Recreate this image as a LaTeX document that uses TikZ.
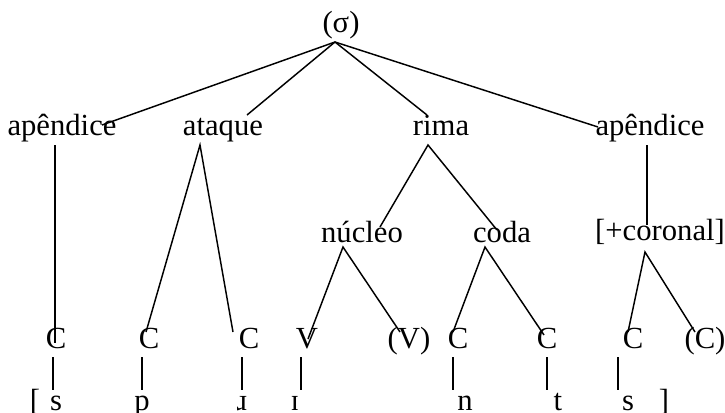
\documentclass[tikz,border=0pt]{standalone}
\usepackage{fontspec}
\setmainfont{Liberation Serif}
\usepackage{tikz}
\usetikzlibrary{calc}
\tikzstyle{lbl}=[anchor=base, inner sep=0pt, font=\fontsize{23}{27}\selectfont]
\tikzstyle{seg}=[lbl]
\tikzstyle{branch}=[line width=1.1pt]

\begin{document}
\begin{tikzpicture}[x=0.75pt, y=-0.75pt]
        \useasboundingbox (0,0) rectangle (725,412);
        \node[lbl] (sigma)   at (341,32)  {(σ)};
        \node[lbl] (apL)     at (62,135)  {apêndice};
        \node[lbl] (ataque)  at (223,135) {ataque};
        \node[lbl] (rima)    at (441,135) {rima};
        \node[lbl] (apR)     at (650,135) {apêndice};
        \node[lbl] (nucleo)  at (362,242) {núcleo};
        \node[lbl] (coda)    at (502,242) {coda};
        \node[lbl] (coronal) at (660,240) {[+coronal]};
        \node[lbl] (C1)      at (56,348)  {C};
        \node[lbl] (C2)      at (149,348) {C};
        \node[lbl] (C3)      at (249,348) {C};
        \node[lbl] (V1)      at (307,348) {V};
        \node[lbl] (V2)      at (409,348) {(V)};
        \node[lbl] (C4)      at (458,348) {C};
        \node[lbl] (C5)      at (547,348) {C};
        \node[lbl] (C6)      at (633,348) {C};
        \node[lbl] (C7)      at (705,348) {(C)};
        \node[seg] (lbr)     at (35,410)  {[};
        \node[seg] (s1)      at (56,410)  {s};
        \node[seg] (p)       at (142,410) {p};
        \node[seg] (r)       at (242,410) {ɹ};
        \node[seg] (i)       at (295,410) {ɪ};
        \node[seg] (n)       at (465,410) {n};
        \node[seg] (t)       at (558,410) {t};
        \node[seg] (s2)      at (628,410) {s};
        \node[seg] (rbr)     at (664,410) {]};
        % syllable
        \draw[branch] ($(sigma.base)+(-6,10)$) -- ($(apL.base)+(40,-10)$);
        \draw[branch] ($(sigma.base)+(-6,10)$) -- ($(ataque.base)+(24,-20)$);
        \draw[branch] ($(sigma.base)+(-6,10)$) -- ($(rima.base)+(-14,-20)$);
        \draw[branch] ($(sigma.base)+(-6,10)$) -- ($(apR.base)+(-52,-8)$);
        % constituents
        \draw[branch] ($(apL.base)+(-7,10)$) -- ($(C1.base)+(-1,-5)$);
        \draw[branch] ($(C2.base)+(-3,-16)$) -- ($(ataque.base)+(-23,10)$) -- ($(C3.base)+(-16,-16)$);
        \draw[branch] ($(nucleo.base)+(18,-15)$) -- ($(rima.base)+(-13,10)$) -- ($(coda.base)+(-5,-12)$);
        \draw[branch] ($(apR.base)+(-3,10)$) -- ($(coronal.base)+(-13,-15)$);
        \draw[branch] ($(V1.base)+(1,-9)$) -- ($(nucleo.base)+(-19,5)$) -- ($(V2.base)+(-9,-16)$);
        \draw[branch] ($(C4.base)+(-5,-16)$) -- ($(coda.base)+(-17,5)$) -- ($(C5.base)+(-3,-13)$);
        \draw[branch] ($(C6.base)+(-5,-16)$) -- ($(coronal.base)+(-15,12)$) -- ($(C7.base)+(-10,-16)$);
        % association to segments
        \draw[branch] ($(C1.base)+(-3,9)$) -- ($(s1.base)+(-3,-20)$);
        \draw[branch] ($(C2.base)+(-7,9)$) -- ($(p.base)+(0,-20)$);
        \draw[branch] ($(C3.base)+(-7,9)$) -- ($(r.base)+(0,-20)$);
        \draw[branch] ($(V1.base)+(-6,9)$) -- ($(i.base)+(6,-20)$);
        \draw[branch] ($(C4.base)+(-5,9)$) -- ($(n.base)+(-12,-20)$);
        \draw[branch] ($(C5.base)+(0,9)$) -- ($(t.base)+(-11,-20)$);
        \draw[branch] ($(C6.base)+(-15,9)$) -- ($(s2.base)+(-10,-20)$);
\end{tikzpicture}
\end{document}
